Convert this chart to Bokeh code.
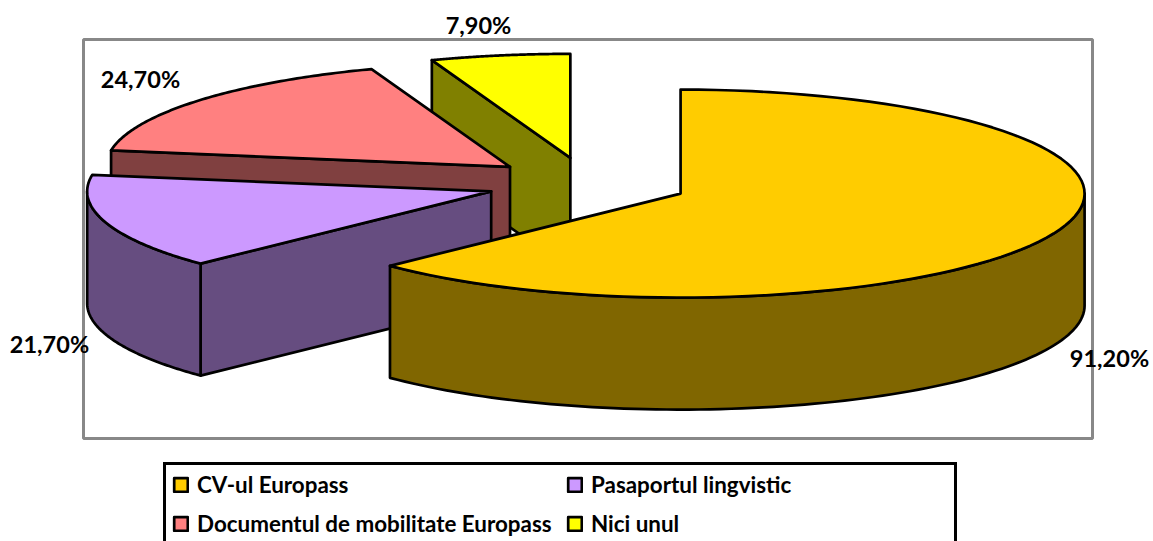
import math
from bokeh.plotting import figure
from bokeh.models import Range1d, Legend, LegendItem
from bokeh.core.properties import value
from bokeh.embed import file_html
from bokeh.resources import INLINE

categories = ["CV-ul Europass", "Pasaportul lingvistic", "Documentul de mobilitate Europass", "Nici unul"]
values = [91.2, 21.7, 24.7, 7.9]
labels = ["91,20%", "21,70%", "24,70%", "7,90%"]
top_colors = ["#FFCC00", "#CC99FF", "#FF8080", "#FFFF00"]
side_colors = ["#806600", "#664D80", "#804040", "#808000"]
explosion = 0.25

# layout of the projected pie, in page pixels
CX, CY, RX, RY, DEPTH = 587.0, 183.0, 404.0, 104.0, 112.0
WARP_FRONT = math.radians(0.35)  # slight perspective of the 3D view
WARP_BACK = math.radians(0.8)
FONT = "Lato"
label_pos = [(1109, 357), (49, 343), (140, 78), (478, 24)]

p = figure(width=1153, height=541, x_range=Range1d(0, 1153), y_range=Range1d(541, 0),
           output_backend="svg", toolbar_location=None, min_border=0)
p.xaxis.visible = False
p.yaxis.visible = False
p.grid.visible = False
p.outline_line_color = None

p.quad(left=[83], right=[1092], top=[39], bottom=[438], fill_color=None,
       line_color="#888888", line_width=3)

total = sum(values)
spans = []
a = 0.0
for v in values:
    s = v / total * 2 * math.pi
    spans.append((a, a + s))
    a += s


def arc(c, a0, a1, dz=0.0, n=90):
    pts = []
    for i in range(n + 1):
        t = a0 + (a1 - a0) * i / n
        t += (WARP_FRONT if t < 1.5 * math.pi else WARP_BACK) * math.sin(2 * t)
        pts.append((c[0] + RX * math.sin(t), c[1] - RY * math.cos(t) + dz))
    return pts


def draw(points, color):
    return p.patch([q[0] for q in points], [q[1] for q in points], fill_color=color,
                   line_color="black", line_width=2.7, line_join="round")


centers = []
for a0, a1 in spans:
    mid = (a0 + a1) / 2
    centers.append((CX + explosion * RX * math.sin(mid), CY - explosion * RY * math.cos(mid)))

tops = [None] * 4
for i in [3, 2, 1, 0]:
    c = centers[i]
    a0, a1 = spans[i]
    # cut face on the start of the slice (visible for the left-hand slices)
    if i > 0:
        start = arc(c, a0, a0, n=1)[0]
        draw([start, c, (c[0], c[1] + DEPTH), (start[0], start[1] + DEPTH)], side_colors[i])
    # outer wall: only the part in front (angles between 90 and 270 degrees)
    w0, w1 = max(a0, math.pi / 2), min(a1, 3 * math.pi / 2)
    if w1 > w0:
        upper = arc(c, w0, w1)
        lower = arc(c, w1, w0, DEPTH)
        draw(upper + lower, side_colors[i])
    tops[i] = draw([c] + arc(c, a0, a1), top_colors[i])

p.text(x=[q[0] for q in label_pos], y=[q[1] for q in label_pos], text=labels,
       text_font=value(FONT), text_font_style="bold", text_font_size="23.5px",
       text_color="black", text_align="center", text_baseline="middle")

legend = Legend(
    items=[LegendItem(label=categories[i], renderers=[tops[i]]) for i in [0, 1, 2, 3]],
    ncols=2, orientation="horizontal", location=(163, -5), margin=0, padding=6,
    spacing=12, glyph_width=17, glyph_height=17, label_standoff=8, label_width=357,
    label_text_font=FONT, label_text_font_style="bold", label_text_font_size="22.4px",
    label_text_color="black", border_line_color="black", border_line_alpha=1.0,
    border_line_width=3, background_fill_alpha=1.0)
p.add_layout(legend, "center")

open("out.html", "w").write(file_html(p, INLINE))
